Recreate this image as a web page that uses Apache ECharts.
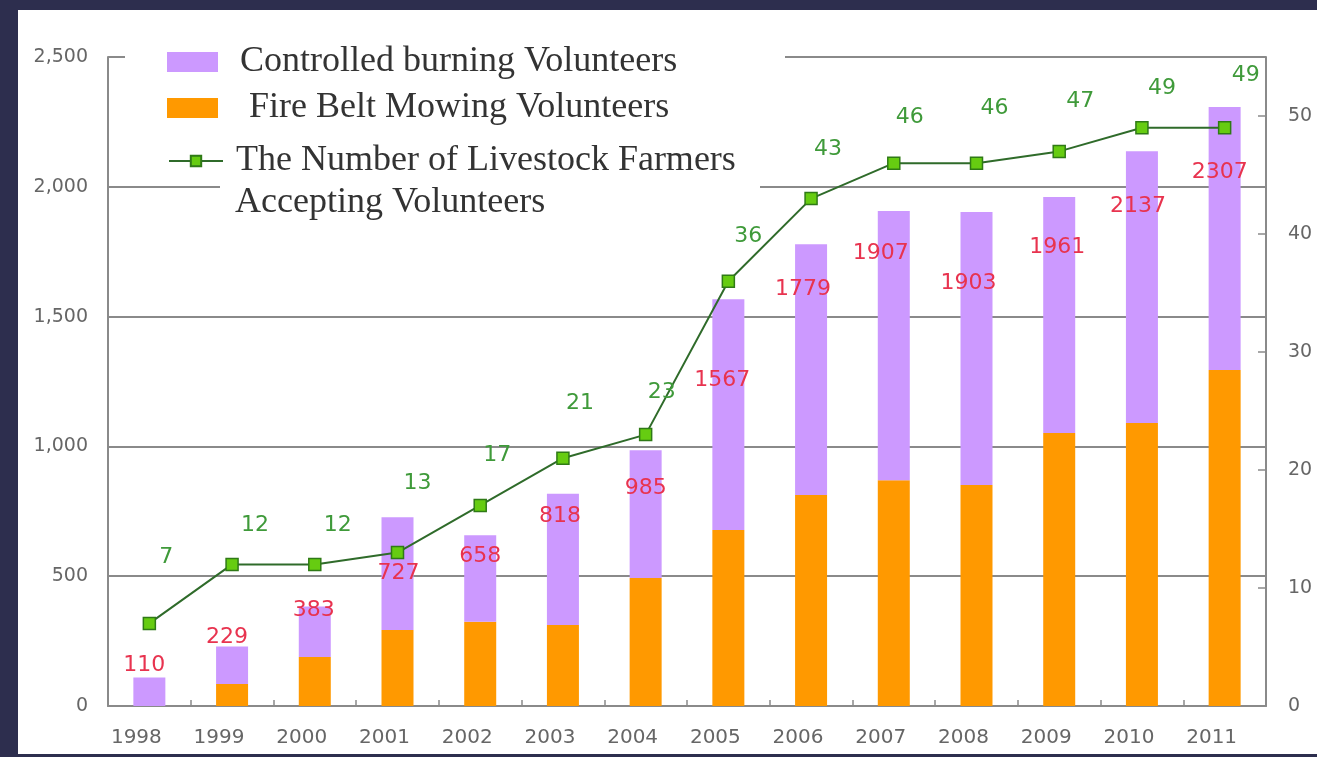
<!DOCTYPE html>
<html>
<head>
<meta charset="utf-8">
<script src="https://cdn.jsdelivr.net/npm/echarts@6/dist/echarts.min.js"></script>
<style>
  html, body { margin: 0; padding: 0; width: 1317px; height: 757px; background: #2d2e4e; overflow: hidden; }
  #chart { position: absolute; left: 18px; top: 10px; width: 1299px; height: 744px; background: #ffffff; }
</style>
</head>
<body>
<div id="chart"></div>
<script>
// ---- data ----
const years = ['1998','1999','2000','2001','2002','2003','2004','2005','2006','2007','2008','2009','2010','2011'];
const burningVolunteers = [110, 144, 194, 434, 333, 506, 492, 889, 966, 1037, 1052, 909, 1047, 1013];
const mowingVolunteers  = [0, 85, 189, 293, 325, 312, 493, 678, 813, 870, 851, 1052, 1090, 1294];
const totalLabels       = [110, 229, 383, 727, 658, 818, 985, 1567, 1779, 1907, 1903, 1961, 2137, 2307];
const livestockFarmers  = [7, 12, 12, 13, 17, 21, 23, 36, 43, 46, 46, 47, 49, 49];
const leftTicks = [0, 500, 1000, 1500, 2000, 2500];
const rightTicks = [0, 10, 20, 30, 40, 50];

// ---- label nudges (text placement only) ----
const totalLabelNudge = [[-5,-2],[-5,1],[-1,14],[1,66],[0,31],[-3,33],[0,48],[-6,91],[-8,55],[-13,52],[-8,81],[-2,60],[-4,65],[-5,75]];
const farmerLabelNudge = [[17,-49],[23,-22],[23,-22],[20,-53],[17,-33],[17,-38],[16,-26],[20,-28],[17,-33],[16,-29],[18,-38],[21,-33],[20,-23],[21,-36]];

const chart = echarts.init(document.getElementById('chart'), null, { renderer: 'canvas' });

const burningData = burningVolunteers.map((v, i) => ({
  value: v,
  label: { offset: totalLabelNudge[i], formatter: String(totalLabels[i]) }
}));
const farmerData = livestockFarmers.map((v, i) => ({
  value: v,
  label: { offset: farmerLabelNudge[i] }
}));

const legendFont = { fontFamily: 'Liberation Serif', fontSize: 36, color: '#333', lineHeight: 38 };

const option = {
  animation: false,
  backgroundColor: '#ffffff',
  grid: { left: 90, right: 51, top: 47, bottom: 48, containLabel: false },
  legend: [
    {
      orient: 'vertical', left: 149, top: 33, padding: 0,
      itemWidth: 51, itemHeight: 20, itemGap: 8, itemTextGap: 5,
      icon: 'rect',
      textStyle: Object.assign({ padding: [0, 0, 0, 17] }, legendFont),
      data: ['Controlled burning Volunteers', ' Fire Belt Mowing Volunteers']
    },
    {
      orient: 'vertical', left: 150, top: 132, padding: 0,
      itemWidth: 54, itemHeight: 13, itemTextGap: 5,
      textStyle: Object.assign({ padding: [0, 0, 0, 8] }, legendFont),
      formatter: () => 'The Number of Livestock Farmers',
      data: ['The Number of Livestock Farmers Accepting Volunteers']
    }
  ],
  graphic: [
    { type: 'rect', z: 1, silent: true, shape: { x: 107, y: 30, width: 660, height: 40 }, style: { fill: '#ffffff' } },
    { type: 'rect', z: 1, silent: true, shape: { x: 202, y: 165, width: 540, height: 25 }, style: { fill: '#ffffff' } },
    { type: 'text', z: 5, left: 217, top: 175, silent: true,
      style: { text: 'Accepting Volunteers', font: '36px "Liberation Serif"', fill: '#333' } }
  ],
  xAxis: {
    type: 'category',
    data: years,
    boundaryGap: true,
    axisLine: { lineStyle: { color: '#8a8a8a', width: 2 } },
    axisTick: { show: true, inside: true, length: 6, lineStyle: { color: '#8a8a8a', width: 1.5 } },
    axisLabel: { color: '#666', fontFamily: 'DejaVu Sans', fontSize: 20, margin: 22, padding: [0, 26, 0, 0] },
    splitLine: { show: false }
  },
  yAxis: [
    {
      type: 'value', min: leftTicks[0], max: leftTicks[leftTicks.length - 1], interval: 500,
      axisLine: { show: true, lineStyle: { color: '#8a8a8a', width: 2 } },
      axisTick: { show: true, inside: true, length: 17, lineStyle: { color: '#8a8a8a', width: 2 } },
      axisLabel: { color: '#666', fontFamily: 'DejaVu Sans', fontSize: 19, margin: 20,
        formatter: v => v.toLocaleString('en-US') },
      splitLine: { show: true, lineStyle: { color: '#8a8a8a', width: 2 } }
    },
    {
      type: 'value', min: rightTicks[0], max: 55, interval: 10,
      position: 'right',
      axisLine: { show: true, lineStyle: { color: '#8a8a8a', width: 2 } },
      axisTick: { show: true, inside: true, length: 8, lineStyle: { color: '#8a8a8a', width: 1.5 } },
      axisLabel: { color: '#666', fontFamily: 'DejaVu Sans', fontSize: 19, margin: 22, showMaxLabel: false },
      splitLine: { show: false }
    }
  ],
  series: [
    {
      name: ' Fire Belt Mowing Volunteers',
      type: 'bar', stack: 'vol', barWidth: 32,
      itemStyle: { color: '#ff9900' },
      data: mowingVolunteers
    },
    {
      name: 'Controlled burning Volunteers',
      type: 'bar', stack: 'vol', barWidth: 32,
      itemStyle: { color: '#cc99ff' },
      label: {
        show: true, position: 'top', distance: 0,
        color: '#e8334f', fontFamily: 'DejaVu Sans', fontSize: 22, lineHeight: 20
      },
      data: burningData
    },
    {
      name: 'The Number of Livestock Farmers Accepting Volunteers',
      type: 'line', yAxisIndex: 1, z: 5,
      symbol: 'rect', symbolSize: 12,
      lineStyle: { color: '#2f6b2a', width: 2 },
      itemStyle: { color: '#66cc11', borderColor: '#2f7a16', borderWidth: 1.5 },
      label: {
        show: true, position: 'top', distance: 0,
        color: '#3f9a3a', fontFamily: 'DejaVu Sans', fontSize: 22, lineHeight: 20
      },
      data: farmerData
    }
  ]
};
chart.setOption(option);
</script>
</body>
</html>
